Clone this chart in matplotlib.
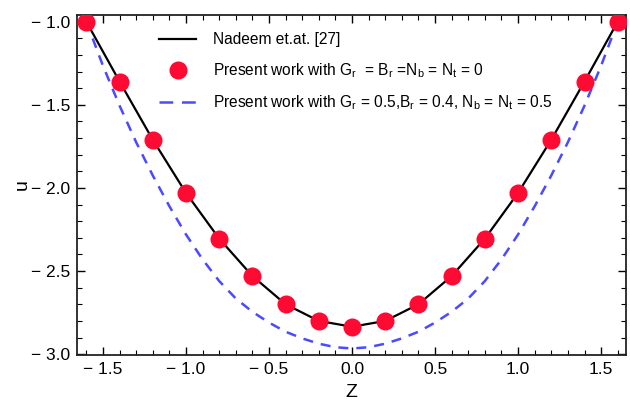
import matplotlib
matplotlib.use("Agg")
import matplotlib.pyplot as plt
from matplotlib.ticker import MultipleLocator, FuncFormatter
from matplotlib.lines import Line2D

plt.rcParams['font.family'] = ['Liberation Sans', 'DejaVu Sans']
plt.rcParams['mathtext.fontset'] = 'custom'
plt.rcParams['mathtext.rm'] = 'Liberation Sans'
plt.rcParams['mathtext.it'] = 'Liberation Sans:italic'

# Data
z_pts = [-1.6, -1.4, -1.2, -1.0, -0.8, -0.6, -0.4, -0.2, 0.0,
         0.2, 0.4, 0.6, 0.8, 1.0, 1.2, 1.4, 1.6]
u_nadeem = [-1.0, -1.36, -1.71, -2.03, -2.305, -2.53, -2.70, -2.80, -2.835,
            -2.80, -2.70, -2.53, -2.305, -2.03, -1.71, -1.36, -1.0]
u_present0 = u_nadeem

z_blue = [-1.6, -1.5, -1.4, -1.3, -1.2, -1.1, -1.0, -0.9, -0.8, -0.7, -0.6, -0.5,
          -0.4, -0.3, -0.2, -0.1, 0.0, 0.1, 0.2, 0.3, 0.4, 0.5, 0.6, 0.7, 0.8,
          0.9, 1.0, 1.1, 1.2, 1.3, 1.4, 1.5, 1.6]
u_blue = [-1.0, -1.265, -1.505, -1.725, -1.925, -2.11, -2.28, -2.43, -2.56, -2.665,
          -2.745, -2.81, -2.865, -2.905, -2.937, -2.958, -2.966, -2.958, -2.937,
          -2.905, -2.865, -2.81, -2.745, -2.665, -2.56, -2.43, -2.28, -2.11,
          -1.925, -1.725, -1.505, -1.265, -1.0]

labels = ['Nadeem et.at. [27]',
          r'Present work with G$_{\rm r}$  = B$_{\rm r}$ =N$_{\rm b}$ = N$_{\rm t}$ = 0',
          r'Present work with G$_{\rm r}$ = 0.5,B$_{\rm r}$ = 0.4, N$_{\rm b}$ = N$_{\rm t}$ = 0.5']

red = '#ff0a32'
blue = '#4a4aff'

fig = plt.figure(figsize=(6.3, 4.01), dpi=100)
ax = fig.add_axes([0.122, 0.1147, 0.8717, 0.8479])

l1, = ax.plot(z_pts, u_nadeem, color='black', lw=1.6, zorder=2)
l2, = ax.plot(z_pts, u_present0, 'o', color=red, ms=13, mec='none', zorder=3)
l3, = ax.plot(z_blue, u_blue, color=blue, lw=1.8, dashes=(4, 3.2), zorder=1)

ax.set_xlim(-1.657, 1.65)
ax.set_ylim(-3.005, -0.96)

ax.xaxis.set_major_locator(MultipleLocator(0.5))
ax.xaxis.set_minor_locator(MultipleLocator(0.1))
ax.yaxis.set_major_locator(MultipleLocator(0.5))
ax.yaxis.set_minor_locator(MultipleLocator(0.1))

def fmt(v, pos):
    s = f'{abs(v):.1f}'
    return ('\u2212 ' + s) if v < -1e-9 else s

ax.xaxis.set_major_formatter(FuncFormatter(fmt))
ax.yaxis.set_major_formatter(FuncFormatter(fmt))

ax.tick_params(which='both', direction='in', top=True, right=True, labelsize=12.5, colors='black')
ax.tick_params(which='major', length=6, width=1.0, pad=5)
ax.tick_params(which='minor', length=3.5, width=0.8)
for sp in ax.spines.values():
    sp.set_linewidth(1.3)
    sp.set_color('#222222')

ax.set_xlabel('Z', fontsize=14, labelpad=5)
ax.set_ylabel('u', fontsize=14, labelpad=0)

h3 = Line2D([], [], color=blue, lw=1.8, dashes=(5.5, 3.5))
leg = ax.legend([l1, l2, h3], labels, loc='upper left', bbox_to_anchor=(0.124, 0.99),
                frameon=False, fontsize=11.2, handlelength=2.4, labelspacing=0.88,
                handletextpad=1.05)

fig.savefig('out.png', dpi=100)
